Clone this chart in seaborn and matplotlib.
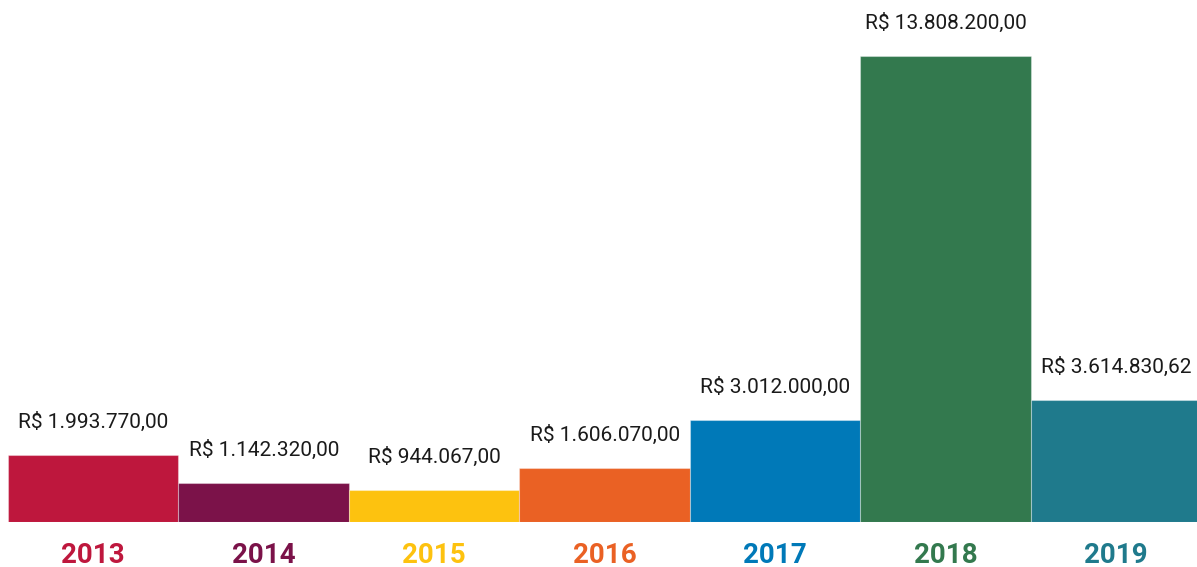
import matplotlib
matplotlib.use("Agg")
import matplotlib.pyplot as plt
import seaborn as sns
import pandas as pd

years = ["2013", "2014", "2015", "2016", "2017", "2018", "2019"]
values = [1993770.00, 1142320.00, 944067.00, 1606070.00, 3012000.00, 13808200.00, 3614830.62]
labels = ["R$ 1.993.770,00", "R$ 1.142.320,00", "R$ 944.067,00", "R$ 1.606.070,00",
          "R$ 3.012.000,00", "R$ 13.808.200,00", "R$ 3.614.830,62"]
colors = ["#BE173D", "#7B1249", "#FDC20F", "#EA6124", "#0079B8", "#33794E", "#1F7A8C"]

df = pd.DataFrame({"year": years, "value": values})

sns.set_style("white")
plt.rcParams["font.family"] = ["Roboto", "DejaVu Sans"]

fig = plt.figure(figsize=(11.97, 5.67), dpi=100)
ax = fig.add_axes([8 / 1197, 45 / 567, 1189 / 1197, 522 / 567])

sns.barplot(data=df, x="year", y="value", hue="year", palette=colors,
            dodge=False, width=1.0, legend=False, ax=ax,
            edgecolor=(1, 1, 1, 0.35), linewidth=0.8, saturation=1)

ax.set_xlim(-0.5, 6.474)
ax.set_ylim(0, 15.47e6)

for i, (v, lab) in enumerate(zip(values, labels)):
    ax.annotate(lab, (i, v), xytext=(0, 24), textcoords="offset points",
                ha="center", va="center", fontsize=15, color="#1a1a1a")
    ax.annotate(years[i], (i, 0), xytext=(0, -24), textcoords="offset points",
                ha="center", va="center", fontsize=20, fontweight="bold",
                color=colors[i])

ax.set_xlabel("")
ax.set_ylabel("")
ax.set_xticks([])
ax.set_yticks([])
for s in ax.spines.values():
    s.set_visible(False)

fig.savefig("out.png", dpi=100, facecolor="white")
